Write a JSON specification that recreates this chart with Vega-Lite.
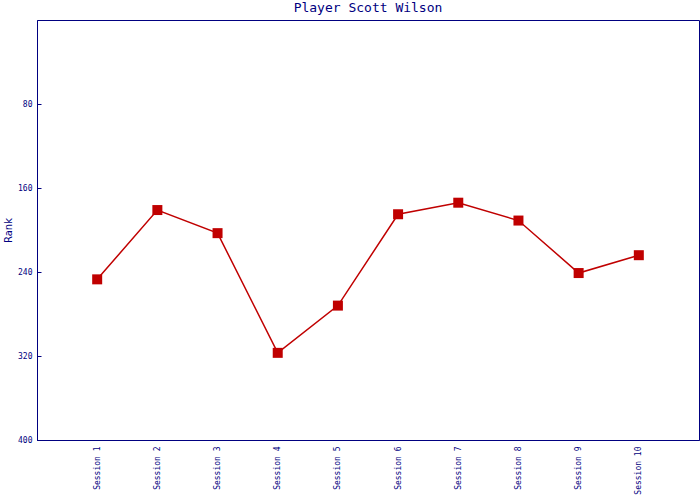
{
  "$schema": "https://vega.github.io/schema/vega-lite/v6.json",
  "autosize": "none",
  "width": 662,
  "height": 420,
  "padding": {"left": 37, "top": 20, "right": 1, "bottom": 60},
  "background": "white",
  "title": {
    "text": "Player Scott Wilson",
    "font": "DejaVu Sans Mono",
    "fontSize": 13,
    "fontWeight": "normal",
    "color": "#000080",
    "anchor": "middle",
    "offset": 5
  },
  "config": {
    "view": {"stroke": "#000080", "strokeWidth": 1},
    "axis": {"grid": false}
  },
  "data": {
    "values": [
      {"session": "Session 1", "rank": 247},
      {"session": "Session 2", "rank": 181},
      {"session": "Session 3", "rank": 203},
      {"session": "Session 4", "rank": 317},
      {"session": "Session 5", "rank": 272},
      {"session": "Session 6", "rank": 185},
      {"session": "Session 7", "rank": 174},
      {"session": "Session 8", "rank": 191},
      {"session": "Session 9", "rank": 241},
      {"session": "Session 10", "rank": 224}
    ]
  },
  "encoding": {
    "x": {
      "field": "session",
      "type": "ordinal",
      "sort": null,
      "scale": {"type": "point", "padding": 1},
      "axis": {
        "title": null,
        "labelAngle": -90,
        "labelFont": "DejaVu Sans Mono",
        "labelFontSize": 8,
        "labelColor": "#000080",
        "domainColor": "#000080",
        "ticks": false,
        "labelPadding": 6
      }
    },
    "y": {
      "field": "rank",
      "type": "quantitative",
      "scale": {"domain": [0, 400], "reverse": true, "nice": false, "zero": false},
      "axis": {
        "title": "Rank",
        "titleFont": "DejaVu Sans",
        "titleFontSize": 10,
        "titleFontWeight": "normal",
        "titleColor": "#000080",
        "titleAngle": -90,
        "titleX": -29,
        "titleY": 210,
        "titleAlign": "center",
        "titleBaseline": "middle",
        "values": [80, 160, 240, 320, 400],
        "labelFont": "DejaVu Sans Mono",
        "labelFontSize": 8,
        "labelColor": "#000080",
        "domainColor": "#000080",
        "tickColor": "#000080",
        "tickSize": -4,
        "labelPadding": 9
      }
    }
  },
  "layer": [
    {"mark": {"type": "line", "color": "#C00000", "strokeWidth": 1.5}},
    {"mark": {"type": "square", "color": "#C00000", "size": 100, "opacity": 1, "filled": true}}
  ]
}
